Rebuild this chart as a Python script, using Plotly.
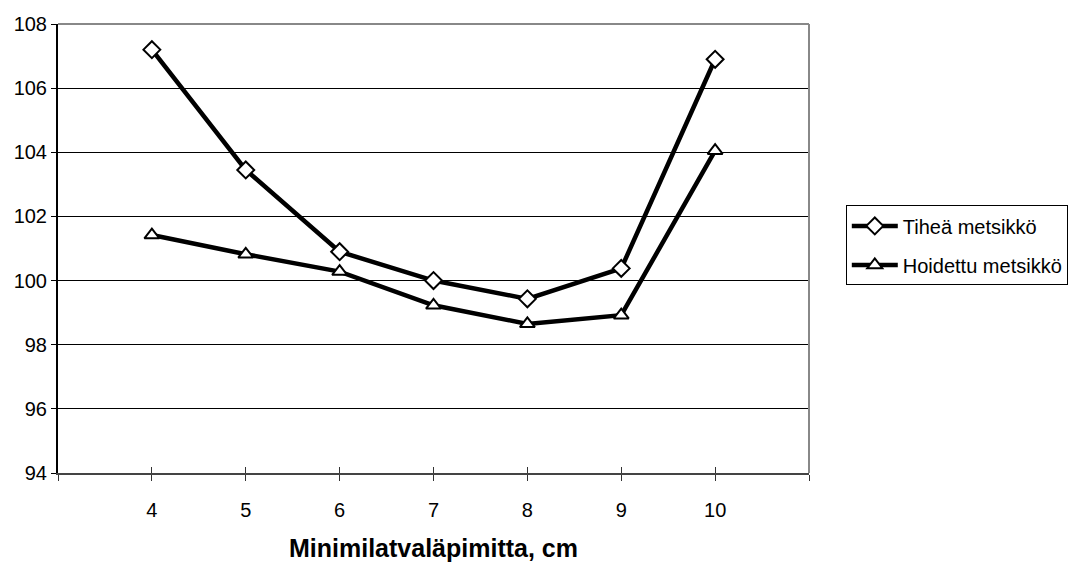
import plotly.graph_objects as go

# Minimum top diameter (cm) and relative values for the two stand types
diameters = [4, 5, 6, 7, 8, 9, 10]
tihea = [107.2, 103.45, 100.9, 100.0, 99.43, 100.38, 106.9]
hoidettu = [101.42, 100.82, 100.28, 99.23, 98.65, 98.92, 104.05]

tick_positions = [3, 4, 5, 6, 7, 8, 9, 10, 11]
tick_labels = ["", "4", "5", "6", "7", "8", "9", "10", ""]

FONT = "Liberation Sans, Arial, sans-serif"

fig = go.Figure()

fig.add_trace(go.Scatter(
    x=diameters, y=tihea, name="Tiheä metsikkö", legendgroup="a",
    mode="lines+markers",
    line=dict(color="black", width=4.5),
    marker=dict(symbol="diamond", size=13, color="white",
                line=dict(color="black", width=2)),
))
fig.add_trace(go.Scatter(
    x=diameters, y=hoidettu, name="Hoidettu metsikkö", legendgroup="b",
    mode="lines+markers",
    line=dict(color="black", width=4.5),
    marker=dict(symbol="triangle-up", size=13, color="white",
                line=dict(color="black", width=2)),
))

fig.update_layout(
    width=1079, height=572,
    margin=dict(l=58, r=270, t=24, b=99, autoexpand=False),
    paper_bgcolor="white", plot_bgcolor="white",
    font=dict(family=FONT, color="black", size=20),
    showlegend=True,
    legend=dict(
        x=1.049, y=0.596, xanchor="left", yanchor="top",
        bordercolor="black", borderwidth=1, bgcolor="white",
        font=dict(size=20, family=FONT),
        tracegroupgap=10, itemwidth=46,
    ),
    xaxis=dict(
        range=[3, 11], tickmode="array", tickvals=tick_positions,
        ticktext=tick_labels, ticks="outside", ticklen=6, tickwidth=1,
        tickcolor="#333", showgrid=False, zeroline=False,
        showline=True, linecolor="#444", linewidth=2,
        tickfont=dict(size=20), ticklabelstandoff=12,
        title=dict(text="<b>Minimilatvaläpimitta, cm</b>",
                   font=dict(size=25), standoff=19),
    ),
    xaxis2=dict(
        range=[3, 11], overlaying="x", matches="x", side="bottom",
        tickmode="array", tickvals=tick_positions, ticktext=[""] * 9,
        ticks="inside", ticklen=6, tickwidth=1, tickcolor="#333",
        showgrid=False, zeroline=False, showline=False,
    ),
    yaxis=dict(
        range=[94, 108], dtick=2, tick0=94, ticks="outside", ticklen=5,
        tickwidth=1, tickcolor="black",
        showgrid=True, gridcolor="black", gridwidth=1,
        zeroline=False, showline=True, linecolor="black", linewidth=2,
        tickfont=dict(size=20),
    ),
    shapes=[
        # top and right edges of the plot area
        dict(type="line", xref="paper", yref="paper", x0=0, x1=1, y0=1, y1=1,
             line=dict(color="#888", width=2)),
        dict(type="line", xref="paper", yref="paper", x0=1, x1=1, y0=0, y1=1,
             line=dict(color="#888", width=2)),
    ],
)

# an invisible trace so the inside tick marks on xaxis2 are drawn
fig.add_trace(go.Scatter(x=[3], y=[94], xaxis="x2", mode="markers",
                         marker=dict(opacity=0), showlegend=False,
                         hoverinfo="skip"))

fig.write_html("out.html")
